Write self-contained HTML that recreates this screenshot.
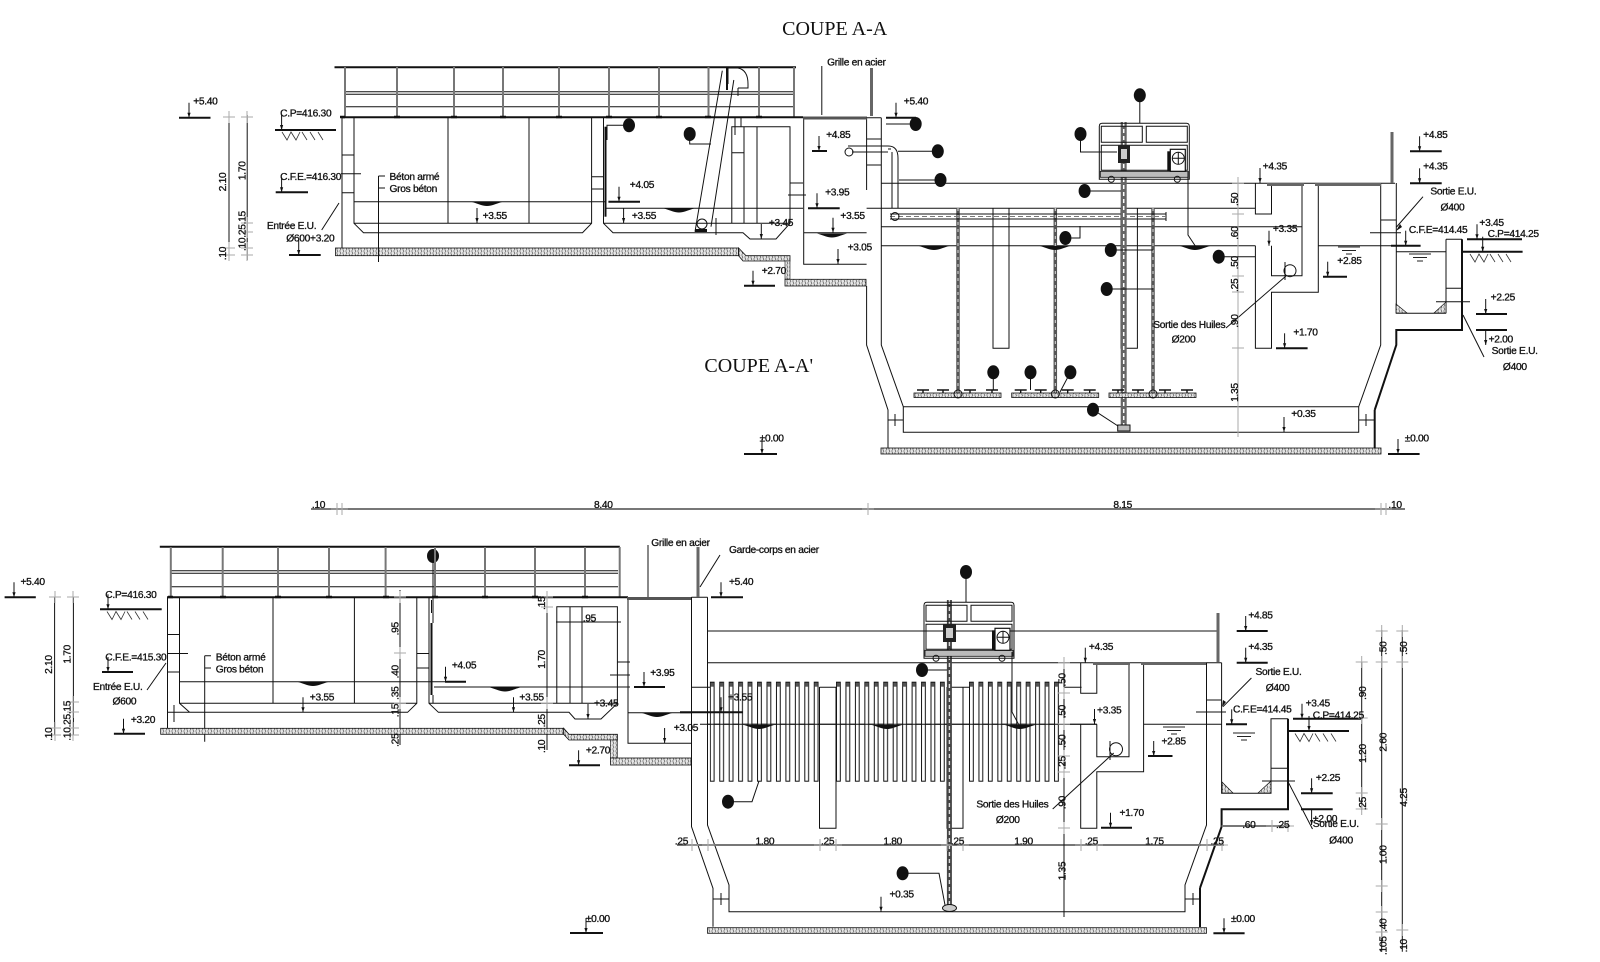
<!DOCTYPE html>
<html><head><meta charset="utf-8"><style>
html,body{margin:0;padding:0;background:#fff}
svg{display:block}
text{font-family:"Liberation Sans",sans-serif;font-size:10px;fill:#111;stroke:#111;stroke-width:.3;letter-spacing:-.3px}
.s{font-family:"Liberation Serif",serif;font-size:19.6px;stroke:none;letter-spacing:0}
.k{fill:none;stroke:#111;stroke-width:1}
.t{fill:none;stroke:#111;stroke-width:2}
.g{fill:none;stroke:#777;stroke-width:2}
.c{fill:none;stroke:#aaa;stroke-width:1}
</style></head><body>
<svg width="1600" height="962" viewBox="0 0 1600 962" xmlns="http://www.w3.org/2000/svg">
<defs>
<pattern id="sl" width="6" height="4" patternUnits="userSpaceOnUse"><rect width="6" height="4" fill="#e6e6e6"/><path d="M0 1h2M3 3h2M4 0l1 2M1 2l1 2" stroke="#333" stroke-width=".6"/></pattern>
<pattern id="tb" width="9.45" height="100" patternUnits="userSpaceOnUse"><rect x=".5" y=".5" width="3.8" height="99" fill="#fff" stroke="#111" stroke-width="1"/><rect x=".7" y="1" width="3.4" height="4" fill="#555"/></pattern>
<g id="a"><path d="M0-15V0" stroke="#111" stroke-width="1"/><path d="M-1.6-5H1.6L0 0Z" fill="#111"/></g>
<g id="x"><path d="M-6 0H6M0-6V6" class="c"/></g>
<g id="h"><path d="M2 2l5 8 4-8 5 8 4-8M22 2l5 8M30 2l5 8M38 2l5 8" stroke="#333" stroke-width=".8" fill="none"/></g>
<g id="w"><path d="M0 0H22M4 3.5H18M8 7H14" stroke="#222" stroke-width="1" fill="none"/></g>
<path id="m" d="M-15 0H15C8 2 5 4 0 4S-8 2-15 0Z" fill="#111"/>
<g id="d"><rect x="0" y="3" width="87" height="4.5" fill="url(#sl)" stroke="#111" stroke-width=".8"/><path d="M3 0H15M9 0V3M23 0H35M29 0V3M50 0H62M56 0V3M72 0H84M78 0V3" stroke="#111" stroke-width="1.4" fill="none"/></g>
<g id="mc"><path d="M0 3Q0 0 3 0H87Q90 0 90 3V56H0Z" class="k"/><path d="M2 3H43V19H2ZM47 3H88V19H47ZM2 22H88V47H2Z" class="k"/><rect x="1" y="48" width="88" height="6" fill="#bbb" stroke="#111" stroke-width=".8"/><rect x="71" y="26" width="15" height="22" fill="#fff" stroke="#111" stroke-width="1.2"/><circle cx="79" cy="35" r="6" class="k"/><path d="M79 29V41M73 35H85" stroke="#111"/><rect x="68" y="28" width="3" height="20" fill="#111"/><circle cx="12" cy="56" r="3" class="k"/><circle cx="78" cy="56" r="3" class="k"/></g>
</defs>

<!-- ============ UPPER DRAWING ============ -->
<path class="t" d="M334.5 67.3H796"/>
<path class="k" d="M345 91.7H794M345 94.3H794M345 106.7H794"/>
<path class="g" d="M345 67V117M397 67V117M454 67V117M503 67V117M559 67V117M609 67V117M659 67V117M708.5 67V117M759 67V117M794 67V117"/>
<path class="t" d="M342 117.3H803"/>
<path d="M340 117h5M394 117h6M451 117h6M500 117h6M556 117h6M606 117h6M656 117h6M705 117h6M756 117h6" stroke="#111" stroke-width="2.5"/>
<path class="k" d="M342 117V248M354 117V223.3L363.5 232.7H582.5L591.6 223.3V117M354 223.3H591.6M448 117V223M529 117V223M342 155H354M342 192.7H354M341 173.7H361M591.6 176.7H603.5M591.6 189H603.5"/>
<path class="k" d="M603.5 117V223.3L613 232.7H743L750 239H776L790 223.3V126.7H731.8V223M744 127V223M757 127V223M603.5 223.3H790M731.8 152.7H744M790 183H803M788 195H806"/>
<path class="k" d="M354 201.7H605M606 208.3H803" stroke="#333"/>
<rect x="335.5" y="248" width="403" height="7.7" fill="url(#sl)" stroke="#111" stroke-width=".8"/>
<path d="M738.6 248L746 255.7H790V261H743L738.6 255.7Z" fill="url(#sl)" stroke="#111" stroke-width=".8"/>
<path d="M785 261H790V279H785Z" fill="url(#sl)" stroke="#111" stroke-width=".6"/>
<rect x="785" y="279.3" width="81" height="6.7" fill="url(#sl)" stroke="#111" stroke-width=".8"/>
<path class="k" d="M866.6 286V345L888 410V448M803.7 117V264.3H866.6M803.7 232.7H866.6M866.6 117.7V190"/>
<rect x="803" y="116.5" width="64" height="3" fill="#555"/>
<path class="t" d="M605.5 126.7V216.7" stroke-width="3"/>
<path class="k" stroke-width="1.4" d="M722.3 70.7L695 231.7M733.8 80L711 226.7M728 66.7V84M716 218V235M735 118V135M741 117V127"/>
<path class="k" d="M728 68H738Q748 70 748 84V88H738M738 88V96" stroke-width="1.2"/>
<path class="t" stroke-width="3" d="M727 68V90"/>
<circle cx="702" cy="224" r="5" class="k"/><rect x="695" y="229" width="12" height="3" fill="#111"/>
<path class="k" d="M881.3 117.7V345L903.3 406.7V432.3H1358.7V406.7L1380.7 345V183.3M903.3 406.7H1358.7M866.6 117.7H881.3M866.6 139H881.3M866.6 165H881.3"/>
<path class="k" d="M1396.3 183V313.3H1446M1446 239.3H1462M1446 239.3V313.3M1446 288.3H1462M1396 233M1380.7 220H1396"/>
<path class="t" d="M1374.7 410L1396.3 345V330H1462V239.300M1374.7 410V448"/>
<path class="k" d="M881 183.3H1395M866.6 208.3H1255.4M881 226.7H1302M881 245.7H1255.4M1318.3 245.7H1396M993 208V348.3H1009V208M1121 208V348.3H1137.4V208M1396 251.700H1446"/>
<path class="k" d="M1255.4 183.3V214H1271.5V183.3M1255.4 245.7V348.3H1271.5V292.3H1318.3V183.3M1271.5 245.7V275.7H1302V183.3"/>
<rect x="1267" y="183" width="37" height="3" fill="#666"/><rect x="1315" y="183" width="66" height="3" fill="#666"/>
<circle cx="1290" cy="270.7" r="6" class="k"/><path class="k" d="M1285 262V280M1286 276L1226 328"/>
<path class="c" d="M1238 178V437" stroke="#999"/>
<rect x="881" y="448" width="500" height="6" fill="url(#sl)" stroke="#111" stroke-width=".8"/>
<!-- pipes upper -->
<path d="M958 208V398M1055.3 208V398M1153 208V398" stroke="#555" stroke-width="3.500"/>
<path d="M958 208V398M1055.3 208V398M1153 208V398" stroke="#ddd" stroke-width="1" stroke-dasharray="3 4"/>
<path class="k" d="M890 214H1166M890 219H1166M1166 212V221"/>
<path d="M890 216.5H1166" stroke="#777" stroke-dasharray="5 3"/>
<circle cx="895" cy="216.5" r="4" class="k"/>
<path class="k" d="M891 149H888M848 146H888Q898 146 898 158V208M852 152H888M892 152V208" stroke-width="1.3"/>
<circle cx="849" cy="152" r="4" class="k"/>
<path d="M1123.7 122V425" stroke="#666" stroke-width="6"/><path d="M1123.7 122V425" stroke="#fff" stroke-width="1.5" stroke-dasharray="4 3"/>
<rect x="1117.7" y="425" width="12.3" height="6" fill="#bbb" stroke="#111"/>
<use href="#mc" x="1099.3" y="123.3"/>
<rect x="1118" y="145" width="12" height="18" fill="#222"/>
<rect x="1121" y="149" width="6" height="10" fill="#ccc"/>
<use href="#d" x="914" y="390"/><use href="#d" x="1011.7" y="390"/><use href="#d" x="1109" y="390"/>
<circle cx="958" cy="394" r="4" class="k"/><circle cx="1055.3" cy="394" r="4" class="k"/><circle cx="1153" cy="394" r="4" class="k"/>
<path class="k" d="M1188 172V235L1196 247"/>
<use href="#m" x="934" y="246"/><use href="#m" x="1055" y="246"/><use href="#m" x="1195" y="246"/><use href="#m" x="679" y="208.5"/><use href="#m" x="487" y="202"/><use href="#m" x="832" y="233.5"/>
<path class="k" d="M1370 232.7H1401M1436 301.700H1470"/>
<path d="M1396 313L1396 304L1407 313ZM1446 313L1434 313L1446 302Z" fill="url(#sl)" stroke="#111" stroke-width=".7"/>
<path d="M1392 183V134Q1392 132 1392 132V183" stroke="#666" stroke-width="3" fill="none"/>
<path d="M871.500 68V116" stroke="#666" stroke-width="3"/>
<!-- leaders upper -->
<path class="k" d="M629 125.3H607V140M689.7 134V144H711M1139.8 95.3V123M915.7 124H886M1080.5 134V152H1117M937.8 151.3H898M940.5 180H899M1084.6 191H1121M1065.4 238H1080V226M1110.8 250H1153M1218.7 256.7H1255M1106.7 289H1153M993.3 372.3V390M1030.5 372.3V390M1070.4 372.3L1060 392M1093 409.7L1118 426"/>
<path class="k" d="M821.800 66V115M321.700 230L339 203M1423 196.700L1396.500 227M1484 357L1463 315M378.500 176V262M378.500 176H385M378.500 188H385"/>
<path d="M1396 231l4-7 2 3z" fill="#111"/>
<!-- upper level lines -->
<path class="t" stroke-width="1" d="M179 117.7H210.5M275 130H336M275.700 192.300H308M289 255H320.700M608.400 201.700H640M812 151H827M808 208.300H839.700M744 285.700H775M886 117.700H916M744 454H777M1388 454H1419.600M1410 151.300H1441.700M1410 183.300H1441.700M1467 239.300H1522M1462 251.700H1522.600M1391 245.700H1420.600M1476 314H1507M1476 330H1507M1276 348.300H1307.600M1323 276.700H1347"/>
<use href="#a" x="189" y="117.7"/><use href="#a" x="281.6" y="130"/><use href="#a" x="281.6" y="192.3"/><use href="#a" x="298.7" y="255"/><use href="#a" x="619" y="201.7"/><use href="#a" x="477" y="223"/><use href="#a" x="623.6" y="223"/><use href="#a" x="761.3" y="239"/><use href="#a" x="819" y="151"/><use href="#a" x="817" y="208.3"/><use href="#a" x="833" y="232.7"/><use href="#a" x="838" y="264"/><use href="#a" x="753" y="285.7"/><use href="#a" x="896" y="117.7"/><use href="#a" x="762" y="454"/><use href="#a" x="1398" y="454"/><use href="#a" x="1419.6" y="151.3"/><use href="#a" x="1419.6" y="183.3"/><use href="#a" x="1477" y="239.3"/><use href="#a" x="1482.7" y="251.7"/><use href="#a" x="1405.7" y="245.7"/><use href="#a" x="1485.7" y="314"/><use href="#a" x="1485.7" y="345"/><use href="#a" x="1284.6" y="348.3"/><use href="#a" x="1284" y="432"/><use href="#a" x="1327.7" y="276.7"/><use href="#a" x="1260" y="183"/><use href="#a" x="1269" y="245.7"/>
<use href="#h" x="280" y="130"/><use href="#h" x="1468" y="252"/>
<use href="#w" x="1409" y="254"/><use href="#w" x="1338" y="247"/>
<path class="k" d="M229 115V260M247.200 115V260"/>
<use href="#x" x="229" y="117"/><use href="#x" x="247" y="117"/><use href="#x" x="247" y="223"/><use href="#x" x="247" y="232"/><use href="#x" x="247" y="248"/><use href="#x" x="229" y="248"/><use href="#x" x="247" y="255"/><use href="#x" x="229" y="255"/>
<use href="#x" x="1238" y="183"/><use href="#x" x="1238" y="214"/><use href="#x" x="1238" y="276"/><use href="#x" x="1238" y="292"/><use href="#x" x="1238" y="348"/>
<path class="k" d="M888 420H903M895 414V426M1359 420H1375M1366 414V426"/>
<!-- balloons -->
<g fill="#111">
<ellipse cx="1139.8" cy="95.3" rx="6" ry="7"/><ellipse cx="915.700" cy="124" rx="6" ry="7"/><ellipse cx="1080.500" cy="134" rx="6" ry="7"/><ellipse cx="937.800" cy="151.300" rx="6" ry="7"/><ellipse cx="940.500" cy="180" rx="6" ry="7"/><ellipse cx="1084.600" cy="191" rx="6" ry="7"/><ellipse cx="1065.400" cy="238" rx="6" ry="7"/><ellipse cx="1110.800" cy="250" rx="6" ry="7"/><ellipse cx="1218.700" cy="256.700" rx="6" ry="7"/><ellipse cx="1106.700" cy="289" rx="6" ry="7"/><ellipse cx="993.300" cy="372.300" rx="6" ry="7"/><ellipse cx="1030.500" cy="372.300" rx="6" ry="7"/><ellipse cx="1070.400" cy="372.300" rx="6" ry="7"/><ellipse cx="1093" cy="409.700" rx="6" ry="7"/><ellipse cx="629" cy="125.300" rx="6" ry="7"/><ellipse cx="689.700" cy="134" rx="6" ry="7"/>
<ellipse cx="966" cy="572" rx="6" ry="7"/><ellipse cx="922" cy="670" rx="6" ry="7"/><ellipse cx="728" cy="801.700" rx="6" ry="7"/><ellipse cx="902.600" cy="873.300" rx="6" ry="7"/><ellipse cx="433" cy="556" rx="6" ry="7"/>
</g>
<!-- overall dim -->
<path class="g" d="M311 509H1405" stroke-width="1.6"/>
<use href="#x" x="337" y="509"/><use href="#x" x="342" y="509"/><use href="#x" x="868" y="509"/><use href="#x" x="1381" y="509"/><use href="#x" x="1386" y="509"/>

<!-- ============ LOWER DRAWING ============ -->
<path class="t" d="M159.800 546.700H619.800"/>
<path class="k" d="M170 570.700H618M170 573.300H618M170 586.700H618"/>
<path class="g" d="M170.800 547V597M222.700 547V597M278 547V597M329 547V597M385.600 547V597M435 547V597M485 547V597M535 547V597M585 547V597M619.700 547V597"/>
<path class="t" d="M167 597.300H628"/>
<path d="M168 597h5M220 597h6M275 597h6M326 597h6M383 597h6M432 597h6M482 597h6M532 597h6M582 597h6" stroke="#111" stroke-width="2.500"/>
<path class="k" d="M167.500 597V728.300M179.500 597V703.300L189.600 712.300H407.600L416.800 703.300V597M179.500 703.300H416.800M167.500 712.300H190M273 597V703M354.400 597V703M167.500 634.500H179.500M167.500 672H179.500M168 653.500H188M416.800 653.500H429M416.800 668H429M174 705V722"/>
<path class="k" d="M429 597V703.300L438.400 712.300H569L575 719H601L617.400 703.300V606.700H556.800V703M570 607V703M582 607V703M429 703.300H617.400M617.400 662H630M610 675H630"/>
<path class="k" stroke="#333" d="M179.500 681.700H464.500M434 687H630"/>
<path class="t" stroke-width="3.500" d="M431.500 623V695"/>
<path class="k" d="M433 597V623M433 695V703M431.500 613V600M147 690L166 663M204.700 655.700V741.700M204.700 655.700H211M204.700 668H211M648 545V597M720 555L700 587"/>
<path class="k" d="M400 590V745M547 592V750M556 622H621"/>
<rect x="160.700" y="728.300" width="403" height="6" fill="url(#sl)" stroke="#111" stroke-width=".8"/>
<path d="M563.700 728.300L569 734.300H617.400V740H569L563.700 734.300Z" fill="url(#sl)" stroke="#111" stroke-width=".8"/>
<rect x="610.500" y="740" width="6.900" height="18" fill="url(#sl)" stroke="#111" stroke-width=".6"/>
<rect x="610.500" y="758" width="80.500" height="7" fill="url(#sl)" stroke="#111" stroke-width=".8"/>
<path class="k" d="M628 597V743.300H691M628 712.700H691"/>
<rect x="627" y="597" width="64" height="3" fill="#555"/>
<path class="k" d="M691.500 597V826.700L713 888.300V926.700M707.500 597.300V825L729 885V911.700H1185V885L1206.500 825V662.700M691.500 597.300H707.500M713 899H729M1185 899H1200M721 893V905M1193 893V905"/>
<path class="t" d="M1200 888L1221.600 826.700V809.300H1288V718.700M1200 888V927"/>
<path class="k" d="M1221.600 662.700V793.300H1271V718.700H1288M1271 768.300H1288M1206.500 700H1221.600"/>
<path class="k" d="M707.500 631H1217M707.500 662.700H1221.600M691 687.300H710M819.500 687.300H836M947 687.300H969M1064 687.300H1081.600M700 724.300H1096.800M1143.600 724.300H1221.600"/>
<path class="k" d="M1080.700 662.700V693.300H1096.800V662.700M1080.700 724.300V828.300H1096.800V771.700H1143.600V662.700M1096.800 724.300V756.700H1129V662.700"/>
<rect x="1093" y="662" width="37" height="3" fill="#666"/><rect x="1141" y="662" width="65" height="3" fill="#666"/>
<circle cx="1116" cy="749.300" r="6.500" class="k"/><path class="k" d="M1110 741V760M1113.700 753L1052.700 809"/>
<rect x="707.500" y="927.700" width="499" height="5.600" fill="url(#sl)" stroke="#111" stroke-width=".8"/>
<g transform="translate(709.800,681.700)"><rect width="113" height="100" fill="url(#tb)"/></g>
<g transform="translate(836,681.700)"><rect width="113" height="100" fill="url(#tb)"/></g>
<g transform="translate(969,681.700)"><rect width="95" height="100" fill="url(#tb)"/></g>
<path class="k" d="M707.500 724.300H1096.800"/>
<path class="k" d="M819.500 687V828.300H836V687M947 687V828.300H963V687"/>
<use href="#m" x="759" y="725"/><use href="#m" x="887" y="725"/><use href="#m" x="1020" y="725"/>
<use href="#m" x="313" y="682"/><use href="#m" x="505" y="687.500"/><use href="#m" x="657" y="713"/>
<path d="M949.400 600V907" stroke="#444" stroke-width="5"/><path d="M949.400 600V907" stroke="#ddd" stroke-width="1.400" stroke-dasharray="4 3"/>
<ellipse cx="949.500" cy="908" rx="7" ry="3.500" fill="#ccc" stroke="#111"/>
<use href="#mc" x="924" y="602.300"/>
<rect x="943" y="624" width="13" height="18" fill="#222"/><rect x="946" y="628" width="7" height="10" fill="#ccc"/>
<path class="k" d="M1012 652V712L1020 727"/>
<path class="k" d="M966 572V602M922 670H947M728 801.700H752L759 781M902.600 873.300H939L945 905M433 556V597"/>
<path class="k" d="M1251.400 678L1223 706.700M1312.500 829L1288 781.700"/>
<path stroke="#666" stroke-width="3" fill="none" d="M698 547V597M1218 613V662"/>
<path class="k" d="M1196 712H1226M1262 781H1295"/>
<path d="M1222 707l1-7 3 2z" fill="#111"/>
<path d="M1222 793L1222 782L1233 793ZM1271 793L1258 793L1271 781Z" fill="url(#sl)" stroke="#111" stroke-width=".7"/>
<!-- level lines lower -->
<path class="t" stroke-width="1" d="M4.600 597.300H35.800M100 609.300H161.700M102 672H133M113.900 733.700H145M445 681.700H466M634 687H665M569 765.300H600M680 712.300H743M711 597.300H743M1236.700 631H1267.700M1236.700 662.700H1267.700M1226 724.300H1247M1293 718.700H1361M1288 731H1349M1301 793.300H1332.700M1301 809.300H1332.700M1101 827.700H1132M1148 756H1172.500M570 933H603M1213.400 933.300H1244.600"/>
<use href="#a" x="14" y="597.300"/><use href="#a" x="108" y="609.300"/><use href="#a" x="108" y="672"/><use href="#a" x="123.500" y="733.700"/><use href="#a" x="445.500" y="681.700"/><use href="#a" x="303" y="712.300"/><use href="#a" x="513.500" y="712.300"/><use href="#a" x="588" y="719"/><use href="#a" x="644" y="687"/><use href="#a" x="664.600" y="743"/><use href="#a" x="578.600" y="765.300"/><use href="#a" x="721" y="597.300"/><use href="#a" x="721" y="712.300"/><use href="#a" x="1245.700" y="631"/><use href="#a" x="1245.700" y="662.700"/><use href="#a" x="1231.700" y="724.300"/><use href="#a" x="1302" y="718.700"/><use href="#a" x="1309" y="731"/><use href="#a" x="1311.600" y="793.300"/><use href="#a" x="1311.600" y="825"/><use href="#a" x="1110.500" y="827.700"/><use href="#a" x="1153.700" y="756"/><use href="#a" x="1085.300" y="662.700"/><use href="#a" x="1094.500" y="724"/><use href="#a" x="881" y="911.700"/><use href="#a" x="1224" y="933.300"/><use href="#a" x="586" y="933"/>
<use href="#h" x="105" y="609.500"/><use href="#h" x="1293" y="731.500"/>
<use href="#w" x="1233" y="733"/><use href="#w" x="1163" y="727"/>
<!-- dim lines lower -->
<path class="g" d="M677 845H1224" stroke-width="1.400"/>
<path class="g" d="M1221.600 826H1290" stroke-width="1"/>
<path class="k" d="M1064 658V917M54.600 597V735M73.400 597V735"/>
<path class="k" d="M1361.700 661.700V810M1381.700 630V951.700M1402.300 630V951.700"/>
<use href="#x" x="55" y="597"/><use href="#x" x="73" y="597"/><use href="#x" x="73" y="702"/><use href="#x" x="73" y="712"/><use href="#x" x="73" y="728"/><use href="#x" x="55" y="728"/><use href="#x" x="73" y="735"/><use href="#x" x="55" y="735"/>
<use href="#x" x="547" y="597"/><use href="#x" x="547" y="607"/><use href="#x" x="547" y="703"/><use href="#x" x="400" y="597"/><use href="#x" x="400" y="653"/><use href="#x" x="400" y="703"/>
<use href="#x" x="1064" y="663"/><use href="#x" x="1064" y="693"/><use href="#x" x="1064" y="724"/><use href="#x" x="1064" y="756"/><use href="#x" x="1064" y="772"/><use href="#x" x="1064" y="828"/>
<use href="#x" x="1361.700" y="662"/><use href="#x" x="1361.700" y="718"/><use href="#x" x="1361.700" y="793"/><use href="#x" x="1361.700" y="809"/><use href="#x" x="1381.700" y="631"/><use href="#x" x="1381.700" y="662"/><use href="#x" x="1381.700" y="824"/><use href="#x" x="1381.700" y="886"/><use href="#x" x="1381.700" y="912"/><use href="#x" x="1381.700" y="932"/><use href="#x" x="1402.300" y="631"/><use href="#x" x="1402.300" y="662"/><use href="#x" x="1402.300" y="930"/>
<use href="#x" x="820" y="845"/><use href="#x" x="836" y="845"/><use href="#x" x="947" y="845"/><use href="#x" x="963" y="845"/><use href="#x" x="1081" y="845"/><use href="#x" x="1097" y="845"/><use href="#x" x="1207" y="845"/><use href="#x" x="1222" y="845"/><use href="#x" x="692" y="845"/><use href="#x" x="708" y="845"/><use href="#x" x="1272" y="826"/><use href="#x" x="1288" y="826"/>

<!-- ============ TEXT (source coordinates scaled) ============ -->
<g transform="scale(1.0224)">
<text class="s" x="765" y="34">COUPE A-A</text>
<text class="s" x="689" y="364">COUPE A-A'</text>
<text x="809" y="64">Grille en acier</text>
<text x="189" y="102">+5.40</text><text x="274" y="114">C.P=416.30</text><text x="274" y="176">C.F.E.=416.30</text>
<text x="381" y="176">Béton armé</text><text x="381" y="188">Gros béton</text>
<text x="261" y="224">Entrée E.U.</text><text x="280" y="236">Ø600+3.20</text>
<text x="472" y="214">+3.55</text><text x="616" y="184">+4.05</text><text x="618" y="214">+3.55</text><text x="752" y="221">+3.45</text><text x="808" y="135">+4.85</text><text x="807" y="191">+3.95</text><text x="822" y="214">+3.55</text><text x="829" y="245">+3.05</text><text x="745" y="268">+2.70</text><text x="884" y="102">+5.40</text>
<text x="1235" y="166">+4.35</text><text x="1245" y="227">+3.35</text><text x="1308" y="258">+2.85</text><text x="1265" y="328">+1.70</text><text x="1263" y="408">+0.35</text><text x="743" y="432">±0.00</text><text x="1374" y="432">±0.00</text><text x="1392" y="135">+4.85</text><text x="1392" y="166">+4.35</text>
<text x="1399" y="190">Sortie E.U.</text><text x="1409" y="206">Ø400</text><text x="1378" y="228">C.F.E=414.45</text><text x="1447" y="221">+3.45</text><text x="1455" y="232">C.P=414.25</text><text x="1458" y="294">+2.25</text><text x="1456" y="335">+2.00</text><text x="1459" y="346">Sortie E.U.</text><text x="1470" y="362">Ø400</text>
<text x="1128" y="321">Sortie des Huiles</text><text x="1146" y="335">Ø200</text>
<g text-anchor="middle">
<text transform="translate(221,178) rotate(-90)">2.10</text><text transform="translate(240,167) rotate(-90)">1.70</text><text transform="translate(240,226) rotate(-90)">.10.25.15</text><text transform="translate(221,248) rotate(-90)">.10</text>
<text transform="translate(1211,195) rotate(-90)">.50</text><text transform="translate(1211,228) rotate(-90)">.60</text><text transform="translate(1211,257) rotate(-90)">.50</text><text transform="translate(1211,279) rotate(-90)">.25</text><text transform="translate(1211,314) rotate(-90)">.90</text><text transform="translate(1211,384) rotate(-90)">1.35</text>
</g>
<text x="305" y="497">.10</text><text x="581" y="497">8.40</text><text x="1089" y="497">8.15</text><text x="1358" y="497">.10</text>

<text x="20" y="572">+5.40</text><text x="103" y="585">C.P=416.30</text><text x="103" y="646">C.F.E.=415.30</text>
<text x="211" y="646">Béton armé</text><text x="211" y="658">Gros béton</text>
<text x="91" y="675">Entrée E.U.</text><text x="110" y="689">Ø600</text><text x="128" y="707">+3.20</text>
<text x="303" y="685">+3.55</text><text x="442" y="654">+4.05</text><text x="508" y="685">+3.55</text><text x="581" y="691">+3.45</text><text x="636" y="661">+3.95</text><text x="659" y="715">+3.05</text><text x="573" y="737">+2.70</text>
<text x="637" y="534">Grille en acier</text><text x="713" y="541">Garde-corps en acier</text><text x="713" y="572">+5.40</text><text x="712" y="685">+3.55</text><text x="570" y="608">.95</text>
<text x="1065" y="636">+4.35</text><text x="1073" y="698">+3.35</text><text x="1136" y="728">+2.85</text><text x="1095" y="798">+1.70</text><text x="870" y="878">+0.35</text><text x="573" y="902">±0.00</text><text x="1204" y="902">±0.00</text><text x="1221" y="605">+4.85</text><text x="1221" y="636">+4.35</text>
<text x="1228" y="660">Sortie E.U.</text><text x="1238" y="676">Ø400</text><text x="1206" y="697">C.F.E=414.45</text><text x="1277" y="691">+3.45</text><text x="1284" y="703">C.P=414.25</text><text x="1287" y="764">+2.25</text><text x="1284" y="804">+2.00</text><text x="1284" y="809">Sortie E.U.</text><text x="1300" y="825">Ø400</text>
<text x="955" y="790">Sortie des Huiles</text><text x="974" y="805">Ø200</text>
<text x="660" y="826">.25</text><text x="739" y="826">1.80</text><text x="803" y="826">.25</text><text x="864" y="826">1.80</text><text x="930" y="826">.25</text><text x="992" y="826">1.90</text><text x="1061" y="826">.25</text><text x="1120" y="826">1.75</text><text x="1184" y="826">.25</text><text x="1215" y="810">.60</text><text x="1248" y="810">.25</text>
<g text-anchor="middle">
<text transform="translate(51,650) rotate(-90)">2.10</text><text transform="translate(69,640) rotate(-90)">1.70</text><text transform="translate(69,705) rotate(-90)">.10.25.15</text><text transform="translate(51,718) rotate(-90)">.10</text>
<text transform="translate(533,590) rotate(-90)">.15</text><text transform="translate(533,645) rotate(-90)">1.70</text><text transform="translate(533,705) rotate(-90)">.25</text><text transform="translate(533,730) rotate(-90)">.10</text>
<text transform="translate(390,615) rotate(-90)">.95</text><text transform="translate(390,657) rotate(-90)">.40</text><text transform="translate(390,678) rotate(-90)">.35</text><text transform="translate(390,695) rotate(-90)">.15</text><text transform="translate(390,724) rotate(-90)">.25</text>
<text transform="translate(1042,665) rotate(-90)">.50</text><text transform="translate(1042,696) rotate(-90)">.50</text><text transform="translate(1042,725) rotate(-90)">.50</text><text transform="translate(1042,746) rotate(-90)">.25</text><text transform="translate(1042,785) rotate(-90)">.90</text><text transform="translate(1042,852) rotate(-90)">1.35</text>
<text transform="translate(1336,678) rotate(-90)">.90</text><text transform="translate(1336,737) rotate(-90)">1.20</text><text transform="translate(1336,786) rotate(-90)">.25</text>
<text transform="translate(1356,634) rotate(-90)">.50</text><text transform="translate(1356,726) rotate(-90)">2.60</text><text transform="translate(1356,836) rotate(-90)">1.00</text><text transform="translate(1356,905) rotate(-90)">.40</text><text transform="translate(1356,925) rotate(-90)">.105</text>
<text transform="translate(1376,634) rotate(-90)">.50</text><text transform="translate(1376,780) rotate(-90)">4.25</text><text transform="translate(1376,925) rotate(-90)">.10</text>
</g>
</g>
</svg>
</body></html>
